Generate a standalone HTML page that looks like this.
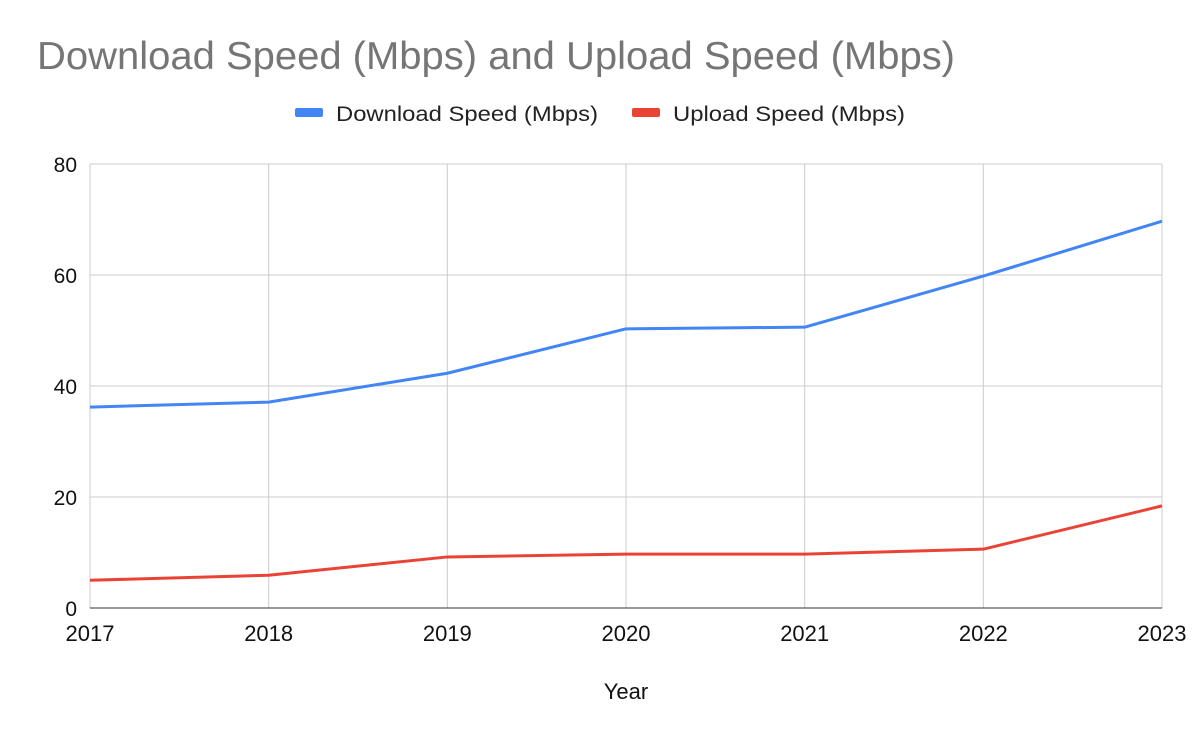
<!DOCTYPE html>
<html><head><meta charset="utf-8"><style>
body{margin:0;background:#fff;font-family:"Liberation Sans",Arial,sans-serif}
</style></head><body>
<svg id="chart" width="1200" height="742" xmlns="http://www.w3.org/2000/svg" style="display:block">
<rect width="1200" height="742" fill="#fff"/>
<text x="37" y="69" font-size="39" fill="#757575" textLength="918" lengthAdjust="spacingAndGlyphs" font-family="Liberation Sans, sans-serif">Download Speed (Mbps) and Upload Speed (Mbps)</text>
<g font-size="21" fill="#222">
<g><rect x="295" y="108" width="28" height="9" rx="2" fill="#4285f4"/><text x="336" y="121" textLength="262" lengthAdjust="spacingAndGlyphs">Download Speed (Mbps)</text></g>
<g><rect x="632" y="108" width="28" height="9" rx="2" fill="#ea4335"/><text x="673" y="121" textLength="232" lengthAdjust="spacingAndGlyphs">Upload Speed (Mbps)</text></g>
</g>
<g id="grid"></g>
<g id="axes"></g>
<g id="series"></g>
<text x="626" y="699" font-size="22" text-anchor="middle" fill="#111">Year</text>
</svg>
<script>
const categories = ["2017","2018","2019","2020","2021","2022","2023"];
const downloadValues = [36.2, 37.1, 42.3, 50.3, 50.6, 59.8, 69.7];
const uploadValues = [5.0, 5.9, 9.2, 9.7, 9.7, 10.6, 18.4];
const yTicks = [0, 20, 40, 60, 80];

const NS = "http://www.w3.org/2000/svg";
const L = 90, R = 1162, T = 164, B = 608, YMAX = 80;
const xs = i => L + (R - L) * i / (categories.length - 1);
const ys = v => B - (B - T) * v / YMAX;
function mk(tag, attrs, parent) {
  const e = document.createElementNS(NS, tag);
  for (const k in attrs) e.setAttribute(k, attrs[k]);
  parent.appendChild(e);
  return e;
}
const grid = document.getElementById('grid');
const axes = document.getElementById('axes');
const series = document.getElementById('series');
yTicks.forEach(v => {
  const ln = mk('line', {x1: L, x2: R, y1: ys(v), y2: ys(v), stroke: v === 0 ? '#333' : '#ccc', 'stroke-width': 1}, grid);
  
  
  const t = mk('text', {x: 77, y: ys(v) + 8, 'font-size': 21, 'text-anchor': 'end', fill: '#111'}, axes);
  t.textContent = v;
  
  
});
categories.forEach((c, i) => {
  const ln = mk('line', {x1: xs(i), x2: xs(i), y1: T, y2: B, stroke: '#ccc', 'stroke-width': 1}, grid);
  
  
  const t = mk('text', {x: xs(i), y: 641, 'font-size': 22, 'text-anchor': 'middle', fill: '#111'}, axes);
  t.textContent = c;
  
  
});
const base = mk('line', {x1: L, x2: R, y1: B, y2: B, stroke: '#333', 'stroke-width': 1}, axes);


function drawLine(vals, color, name) {
  const p = mk('polyline', {points: vals.map((v, i) => xs(i) + ',' + ys(v)).join(' '), fill: 'none', stroke: color, 'stroke-width': 3, 'stroke-linejoin': 'round'}, series);
  
  
}
drawLine(downloadValues, '#4285f4', 'download-speed-line');
drawLine(uploadValues, '#ea4335', 'upload-speed-line');
</script>
</body></html>
